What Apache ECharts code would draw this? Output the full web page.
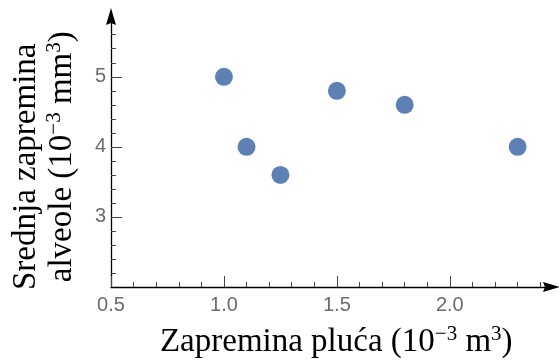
<!DOCTYPE html>
<html>
<head>
<meta charset="utf-8">
<script src="https://cdn.jsdelivr.net/npm/echarts@6/dist/echarts.min.js"></script>
<style>html,body{margin:0;padding:0;background:#fff}#c{width:559px;height:361px}</style>
</head>
<body>
<div id="c"></div>
<script>
// Data
var lungVolume = [1.0, 1.1, 1.25, 1.5, 1.8, 2.3];
var alveoliVolume = [5.0, 4.0, 3.6, 4.8, 4.6, 4.0];
var xTickLabels = [0.5, 1.0, 1.5, 2.0];
var yTickLabels = [3, 4, 5];
var xMinorTicks = [0.6, 0.7, 0.8, 0.9, 1.1, 1.2, 1.3, 1.4, 1.6, 1.7, 1.8, 1.9, 2.1, 2.2, 2.3, 2.4];
var yMinorTicks = [2.2, 2.4, 2.6, 2.8, 3.2, 3.4, 3.6, 3.8, 4.2, 4.4, 4.6, 4.8, 5.2, 5.4, 5.6];
var xName = 'Zapremina pluća (10{sup|−3} m{sup|3})';
var yName = 'Srednja zapremina\n{gap| }alveole (10{sup|−3} mm{sup|3})';

var X_MIN = 0.5, X_MAX = 2.45, Y_MIN = 2, Y_MAX = 5.86;
var ARROW = 'path://M5,0 L10,17 L5,15 L0,17 Z';
var serif = 'Liberation Serif';
function nameStyle(extra) {
  var s = {
    fontFamily: serif, fontSize: 33, color: '#000', lineHeight: 36,
    rich: {
      sup: { fontFamily: serif, fontSize: 21, color: '#000', verticalAlign: 'top', lineHeight: 36 },
      gap: { fontFamily: serif, fontSize: 33, width: 20, lineHeight: 36 }
    }
  };
  return Object.assign(s, extra || {});
}

var data = lungVolume.map(function (x, i) { return [x, alveoliVolume[i]]; });

var chart = echarts.init(document.getElementById('c'), null, { renderer: 'canvas' });
chart.setOption({
  animation: false,
  backgroundColor: '#fff',
  grid: { left: 111, right: 7.5, top: 16.5, bottom: 74, outerBoundsMode: 'none', containLabel: false },
  xAxis: [
    {
      type: 'value', min: X_MIN, max: X_MAX, position: 'bottom',
      axisLine: { show: true, onZero: false, lineStyle: { color: '#000', width: 1.3 }, symbol: ['none', ARROW], symbolSize: [11, 17] },
      axisTick: { show: true, inside: true, length: 11, customValues: xTickLabels, lineStyle: { color: '#444', width: 1 } },
      axisLabel: { customValues: xTickLabels, margin: 8, fontFamily: 'Liberation Sans', fontSize: 20, color: '#6b6b6b',
        formatter: function (v) { return v.toFixed(1); } },
      splitLine: { show: false },
      name: xName, nameLocation: 'middle', nameGap: 37,
      nameTextStyle: nameStyle({ padding: [0, 0, 0, 10] })
    },
    {
      type: 'value', min: X_MIN, max: X_MAX, position: 'bottom',
      axisLine: { show: false, onZero: false },
      axisTick: { show: true, inside: true, length: 5, customValues: xMinorTicks, lineStyle: { color: '#444', width: 1 } },
      axisLabel: { show: false },
      splitLine: { show: false }
    }
  ],
  yAxis: [
    {
      type: 'value', min: Y_MIN, max: Y_MAX, position: 'left',
      axisLine: { show: true, onZero: false, lineStyle: { color: '#000', width: 1.3 }, symbol: ['none', ARROW], symbolSize: [11, 17] },
      axisTick: { show: true, inside: true, length: 11, customValues: yTickLabels, lineStyle: { color: '#444', width: 1 } },
      axisLabel: { customValues: yTickLabels, margin: 5, fontFamily: 'Liberation Sans', fontSize: 20, color: '#6b6b6b' },
      splitLine: { show: false },
      name: yName, nameLocation: 'middle', nameGap: 31, nameRotate: 90,
      nameTextStyle: nameStyle({ padding: [0, 30, 0, 0] })
    },
    {
      type: 'value', min: Y_MIN, max: Y_MAX, position: 'left',
      axisLine: { show: false, onZero: false },
      axisTick: { show: true, inside: true, length: 5, customValues: yMinorTicks, lineStyle: { color: '#444', width: 1 } },
      axisLabel: { show: false },
      splitLine: { show: false }
    }
  ],
  series: [{
    type: 'scatter', xAxisIndex: 0, yAxisIndex: 0,
    data: data, symbol: 'circle', symbolSize: 18,
    itemStyle: { color: '#5E81B5', opacity: 1 }
  }]
});
</script>
</body>
</html>
